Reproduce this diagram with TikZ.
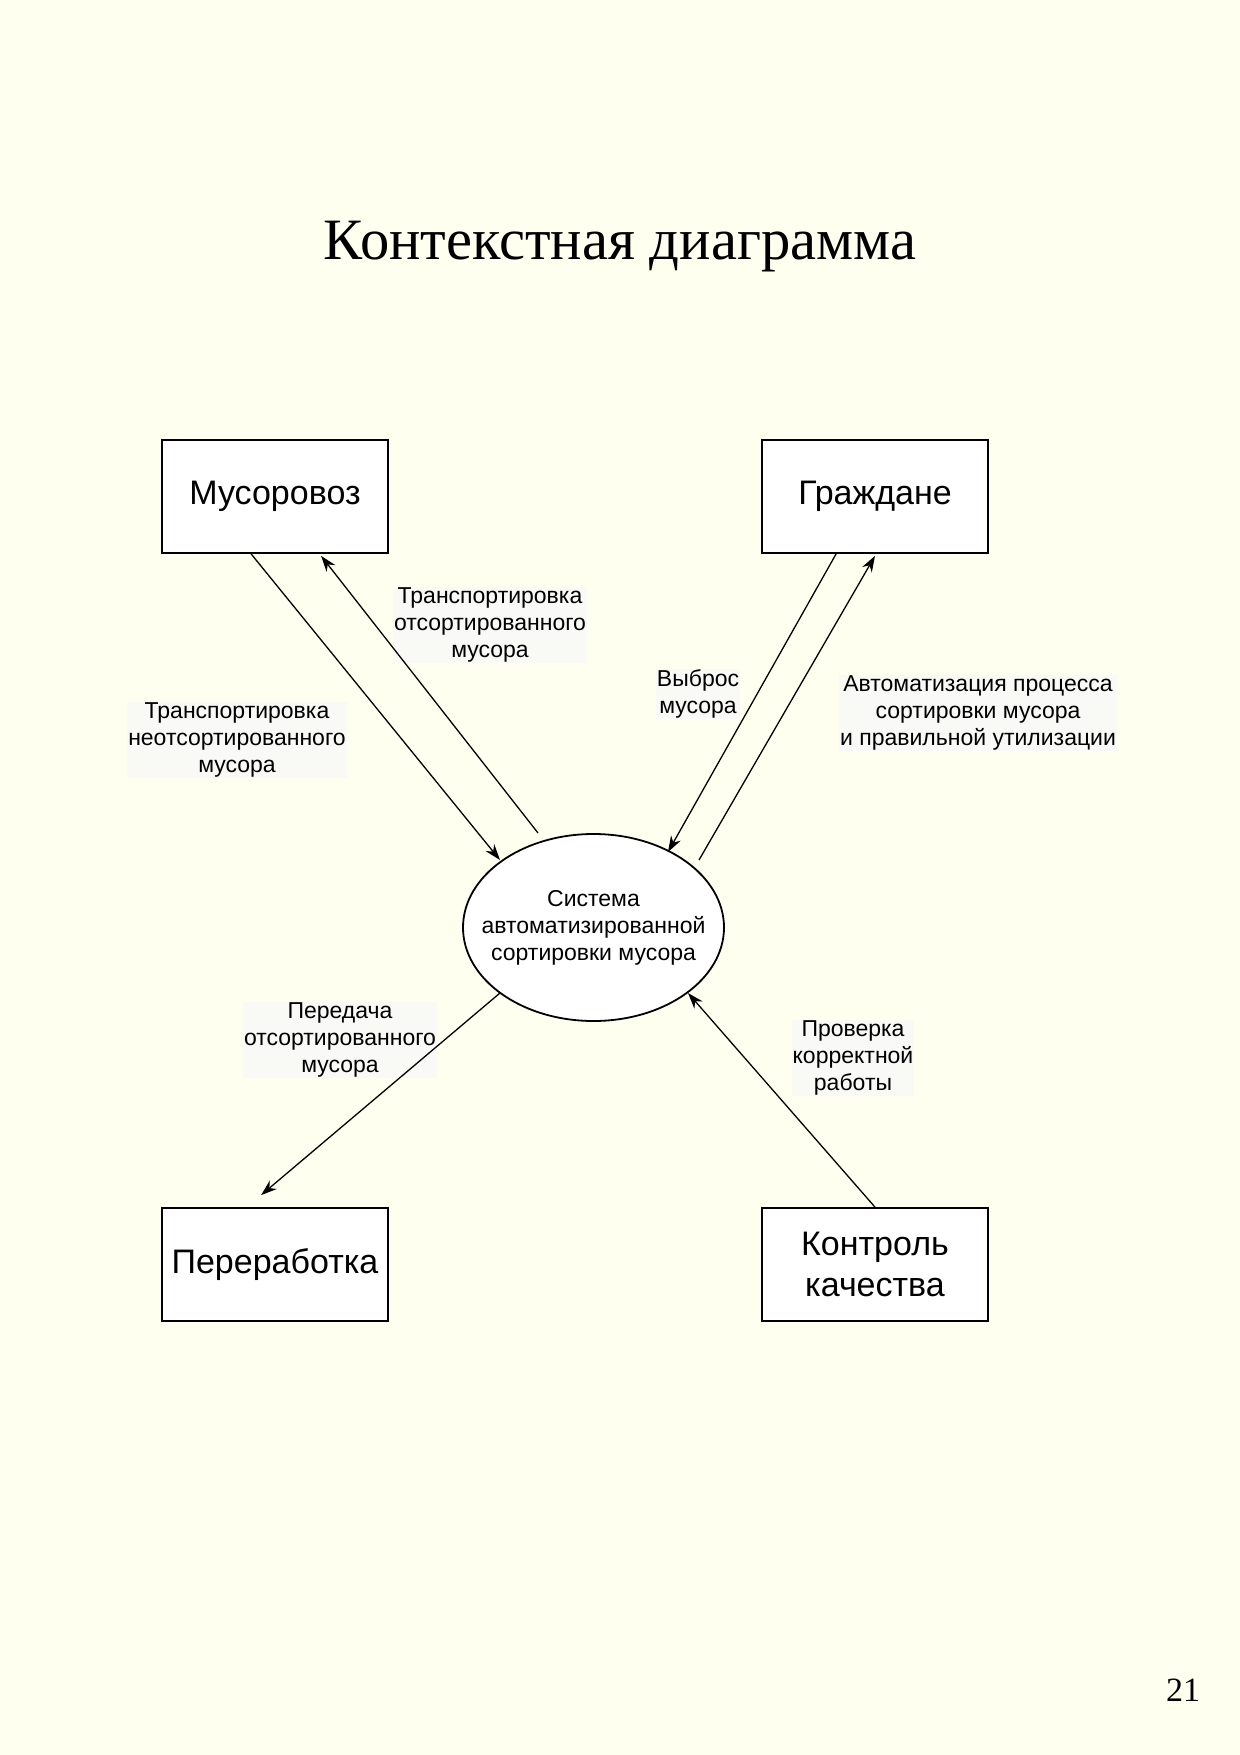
\documentclass[tikz,border=0pt]{standalone}
\usepackage{fontspec}
\setmainfont{Liberation Serif}
\newfontfamily\diasans{Liberation Sans}
\usetikzlibrary{arrows.meta,shapes.geometric}
\definecolor{pagebg}{RGB}{255,255,240}
\definecolor{labbg}{RGB}{249,249,246}
\begin{document}
\begin{tikzpicture}[x=0.5pt,y=-0.5pt,
  entity/.style={draw,line width=0.9pt,fill=white,minimum width=113pt,minimum height=56.5pt,
    inner sep=0pt,align=center,font=\diasans\fontsize{17}{20.5}\selectfont},
  proc/.style={draw,line width=0.9pt,fill=white,ellipse,minimum width=130.5pt,minimum height=93.5pt,
    inner sep=0pt},
  proctext/.style={inner sep=0pt,align=center,font=\diasans\fontsize{11.5}{13.5}\selectfont},
  flowlab/.style={fill=labbg,inner sep=0.5pt,align=center,font=\diasans\fontsize{11.5}{13.5}\selectfont},
  flow/.style={line width=0.65pt,-{Stealth[length=8pt,width=5.5pt]}}]
\fill[pagebg] (0,0) rectangle (1240,1755);
\useasboundingbox (0,0) rectangle (1240,1755);

\node[font=\fontsize{29.3}{34}\selectfont,anchor=base] (title) at (620,260) {Контекстная диаграмма};
\node[font=\fontsize{17}{20}\selectfont,anchor=base] (pnum) at (1183,1701) {21};

% labels (under the connectors)
\node[flowlab] (l1) at (490,625) {Транспортировка\\отсортированного\\мусора};
\node[flowlab] (l2) at (237,740) {Транспортировка\\неотсортированного\\мусора};
\node[flowlab] (l3) at (698,694) {Выброс\\мусора};
\node[flowlab] (l4) at (978,713) {Автоматизация процесса\\сортировки мусора\\и правильной утилизации};
\node[flowlab] (l5) at (340,1040) {Передача\\отсортированного\\мусора};
\node[flowlab] (l6) at (853,1058) {Проверка\\корректной\\работы};

\node[entity] (mus) at (275,496.5) {Мусоровоз};
\node[entity] (gra) at (875,496.5) {Граждане};
\node[entity] (per) at (275,1264.5) {Переработка};
\node[entity] (kon) at (875,1264.5) {Контроль\\качества};
\node[proc] (sys) at (593.5,927.5) {};
\node[proctext] (systxt) at (sys.center) {Система\\автоматизированной\\сортировки мусора};

% connectors
\draw[flow] ([xshift=45pt]mus.south west) -- ([shift={(-93.5,-67.5)}]sys.center);
\draw[flow] ([shift={(-55.5,-94.5)}]sys.center) -- ([xshift=80pt,yshift=-1pt]mus.south west);
\draw[flow] ([xshift=37.5pt]gra.south west) -- ([shift={(74.5,-75.5)}]sys.center);
\draw[flow] ([shift={(105.5,-67.5)}]sys.center) -- ([yshift=-1pt]gra.south);
\draw[flow] ([shift={(-93.5,65.5)}]sys.center) -- ([xshift=50pt,yshift=6pt]per.north west);
\draw[flow] (kon.north) -- ([shift={(94.5,65.5)}]sys.center);
\end{tikzpicture}
\end{document}
